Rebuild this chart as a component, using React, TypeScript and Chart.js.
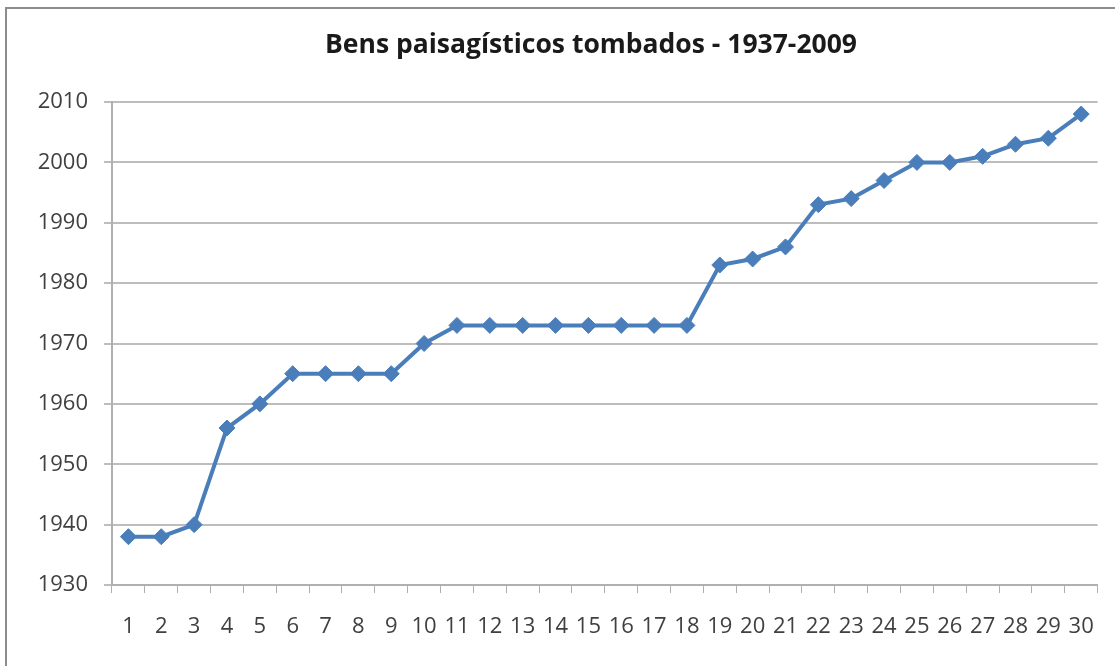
import React, { useEffect, useRef } from "react";
import { Chart, registerables } from "chart.js";

Chart.register(...registerables);

const TITLE = "Bens paisagísticos tombados - 1937-2009";
const categories = [
  "1", "2", "3", "4", "5", "6", "7", "8", "9", "10",
  "11", "12", "13", "14", "15", "16", "17", "18", "19", "20",
  "21", "22", "23", "24", "25", "26", "27", "28", "29", "30",
];
const years = [
  1938, 1938, 1940, 1956, 1960, 1965, 1965, 1965, 1965, 1970,
  1973, 1973, 1973, 1973, 1973, 1973, 1973, 1973, 1983, 1984,
  1986, 1993, 1994, 1997, 2000, 2000, 2001, 2003, 2004, 2008,
];
const yMin = 1930;
const yMax = 2010;
const yStep = 10;

const FONT = "'Open Sans', 'Noto Sans', sans-serif";

const framePlugin = {
  id: "frame",
  beforeDraw(chart: any) {
    const ctx = chart.ctx;
    ctx.save();
    ctx.fillStyle = "#ffffff";
    ctx.fillRect(0, 0, chart.width, chart.height);
    ctx.strokeStyle = "#8c8c8c";
    ctx.lineWidth = 2;
    ctx.beginPath();
    ctx.moveTo(6, chart.height);
    ctx.lineTo(6, 8);
    ctx.lineTo(chart.width, 8);
    ctx.stroke();
    ctx.restore();
  },
  afterDraw(chart: any) {
    const ctx = chart.ctx;
    ctx.save();
    ctx.fillStyle = "#1a1a1a";
    ctx.font = `bold 26.5px ${FONT}`;
    ctx.textAlign = "center";
    ctx.textBaseline = "middle";
    ctx.fillText(TITLE, 591, 45);
    ctx.restore();
  },
};

export default function App() {
  const ref = useRef<HTMLCanvasElement | null>(null);

  useEffect(() => {
    document.body.style.margin = "0";
    const canvas = ref.current;
    if (!canvas) return;
    const chart = new Chart(canvas, {
      type: "line",
      data: {
        labels: categories,
        datasets: [
          {
            data: years,
            borderColor: "#4a7ebb",
            backgroundColor: "#4a7ebb",
            borderWidth: 4,
            pointStyle: "rectRot",
            pointRadius: 8,
            pointBorderWidth: 1,
            pointBorderColor: "#4a7ebb",
            pointBackgroundColor: "#4a7ebb",
            tension: 0,
          },
        ],
      },
      options: {
        animation: false,
        responsive: false,
        maintainAspectRatio: false,
        layout: { padding: { left: 0, right: 14, top: 102, bottom: 0 } },
        plugins: {
          legend: { display: false },
          tooltip: { enabled: false },
          title: { display: false },
        },
        scales: {
          x: {
            offset: true,
            grid: {
              offset: true,
              drawOnChartArea: false,
              drawTicks: true,
              tickLength: 8,
              color: "#b0b0b0",
            },
            border: { display: true, color: "#b0b0b0", width: 2 },
            ticks: {
              color: "#404040",
              font: { family: FONT, size: 22 },
              padding: 21,
              maxRotation: 0,
              autoSkip: false,
            },
            afterFit(scale: any) {
              scale.height = 81;
            },
          },
          y: {
            min: yMin,
            max: yMax,
            grid: {
              color: "#bdbdbd",
              lineWidth: 2,
              tickLength: 8,
            },
            border: { display: true, color: "#b0b0b0", width: 2 },
            ticks: {
              stepSize: yStep,
              color: "#404040",
              font: { family: FONT, size: 22 },
              padding: 16,
              callback: (v: any) => String(v),
            },
            afterFit(scale: any) {
              scale.width = 112;
            },
          },
        },
      },
      plugins: [framePlugin],
    });
    return () => chart.destroy();
  }, []);

  return (
    <div style={{ position: "fixed", left: 0, top: 0, width: 1115, height: 666 }}>
      <canvas ref={ref} width={1115} height={666} style={{ display: "block" }} />
    </div>
  );
}
